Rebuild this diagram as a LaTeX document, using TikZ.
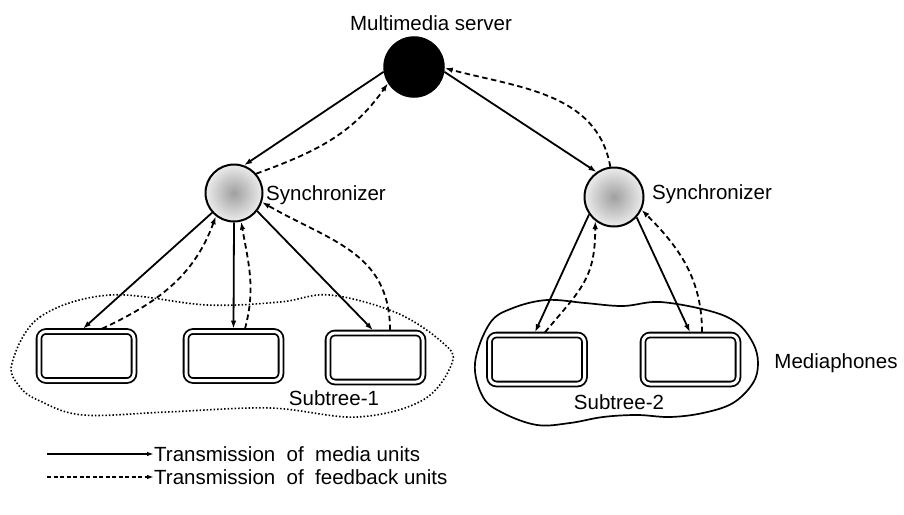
\documentclass[tikz,border=0pt]{standalone}
\usepackage{fontspec}
\setmainfont{Liberation Sans}
\usetikzlibrary{arrows.meta}
\begin{document}
\begin{tikzpicture}[x=1pt,y=1pt,
  lbl/.style={font=\fontsize{20.5}{24}\selectfont, inner sep=0pt},
  srv/.style={circle, fill=black, draw=black, line width=1.5pt, minimum size=60pt, inner sep=0pt},
  syn/.style={circle, draw=black, line width=2pt, minimum size=57pt, inner sep=0pt, inner color=gray!75, outer color=gray!15},
  phone/.style={draw=black, rounded corners=7pt, line width=1.8pt, double=white, double distance=3pt, minimum width=95pt, minimum height=49pt, inner sep=0pt, outer sep=2.8pt},
  media/.style={line width=1.8pt, -{Latex[length=8pt,width=5.5pt]}},
  fb/.style={line width=1.8pt, dash pattern=on 5.5pt off 3.5pt, -{Latex[length=8pt,width=5.5pt]}},
  legm/.style={line width=1.5pt, -{Latex[length=7pt,width=4.5pt]}},
  legf/.style={line width=1.5pt, dash pattern=on 4pt off 2.5pt, -{Latex[length=7pt,width=4.5pt]}},
  blobdot/.style={line width=1.6pt, dash pattern=on 1.5pt off 2pt},
  blobline/.style={line width=1.7pt},
]
\useasboundingbox (0,0) rectangle (904,-514);

% groups
\draw[blobdot] plot[smooth cycle, tension=0.6] coordinates {(12,-363) (40,-317) (110,-295) (207,-305) (280,-302) (330,-295) (397,-313) (443,-343) (452,-363) (423,-400) (357,-417) (270,-408) (167,-412) (83,-415) (40,-401) (20,-387)};
\draw[blobline] plot[smooth cycle, tension=0.6] coordinates {(475,-363) (490,-323) (513,-308) (547,-300) (585,-303) (623,-306) (660,-302) (710,-311) (737,-323) (753,-343) (758,-363) (753,-383) (733,-403) (703,-413) (670,-417) (637,-415) (603,-417) (570,-423) (537,-425) (503,-413) (483,-397)};

% nodes
\node[srv] (S) at (414,-67) {};
\node[syn] (L) at (234,-193) {};
\node[syn, minimum size=59pt] (R) at (614,-197) {};
\node[phone] (B1) at (86.5,-356) {};
\node[phone] (B2) at (233.5,-356) {};
\node[phone] (B3) at (375.5,-357.5) {};
\node[phone] (B4) at (537,-359.5) {};
\node[phone] (B5) at (690.5,-359.5) {};

% labels
\node[lbl] (tS) at (431,-23) {Multimedia server};
\node[lbl, anchor=west] (tL) at (266,-195) {Synchronizer};
\node[lbl, anchor=west] (tR) at (652,-194) {Synchronizer};
\node[lbl] (t1) at (334,-398) {Subtree-1};
\node[lbl] (t2) at (619,-402) {Subtree-2};
\node[lbl] (tM) at (836,-363) {Mediaphones};

% server <-> synchronizers
\draw[media] (S.189) -- (L.70);
\draw[fb] (L.41) to[out=20,in=235] (S.212);
\draw[media] (S.-9) -- (R.125);
\draw[fb] (R.97) to[out=100,in=-15] (S.-2);

% left subtree
\draw[media] (L.222) -- ([xshift=-3.5pt]B1.north);
\draw[fb] ([xshift=15.5pt]B1.north) to[out=25,in=250] (L.232);
\draw[media] (L.south) -- (B2.north);
\draw[fb] ([xshift=11.5pt]B2.north) to[out=75,in=-80] (L.-76);
\draw[media] (L.-38) -- ([xshift=-2.5pt]B3.north);
\draw[fb] ([xshift=14.5pt]B3.north) to[out=90,in=-30,looseness=1.1] (L.-18);

% right subtree
\draw[media] (R.215) -- ([xshift=-2pt]B4.north);
\draw[fb] ([xshift=8pt]B4.north) to[out=50,in=-90,looseness=1.2] (R.232);
\draw[media] (R.-42) -- ([xshift=-0.5pt]B5.north);
\draw[fb] ([xshift=11.5pt]B5.north) to[out=90,in=-45] (R.-25);

% legend
\coordinate (m0) at (47,-454);
\coordinate (f0) at (47,-477);
\node[lbl, anchor=west] (lm) at (154,-454) {Transmission\ \ of\ \ media units};
\node[lbl, anchor=west] (lf) at (154,-477) {Transmission\ \ of\ \ feedback units};
\draw[legm] (m0) -- (lm.west);
\draw[legf] (f0) -- (lf.west);
\end{tikzpicture}
\end{document}
